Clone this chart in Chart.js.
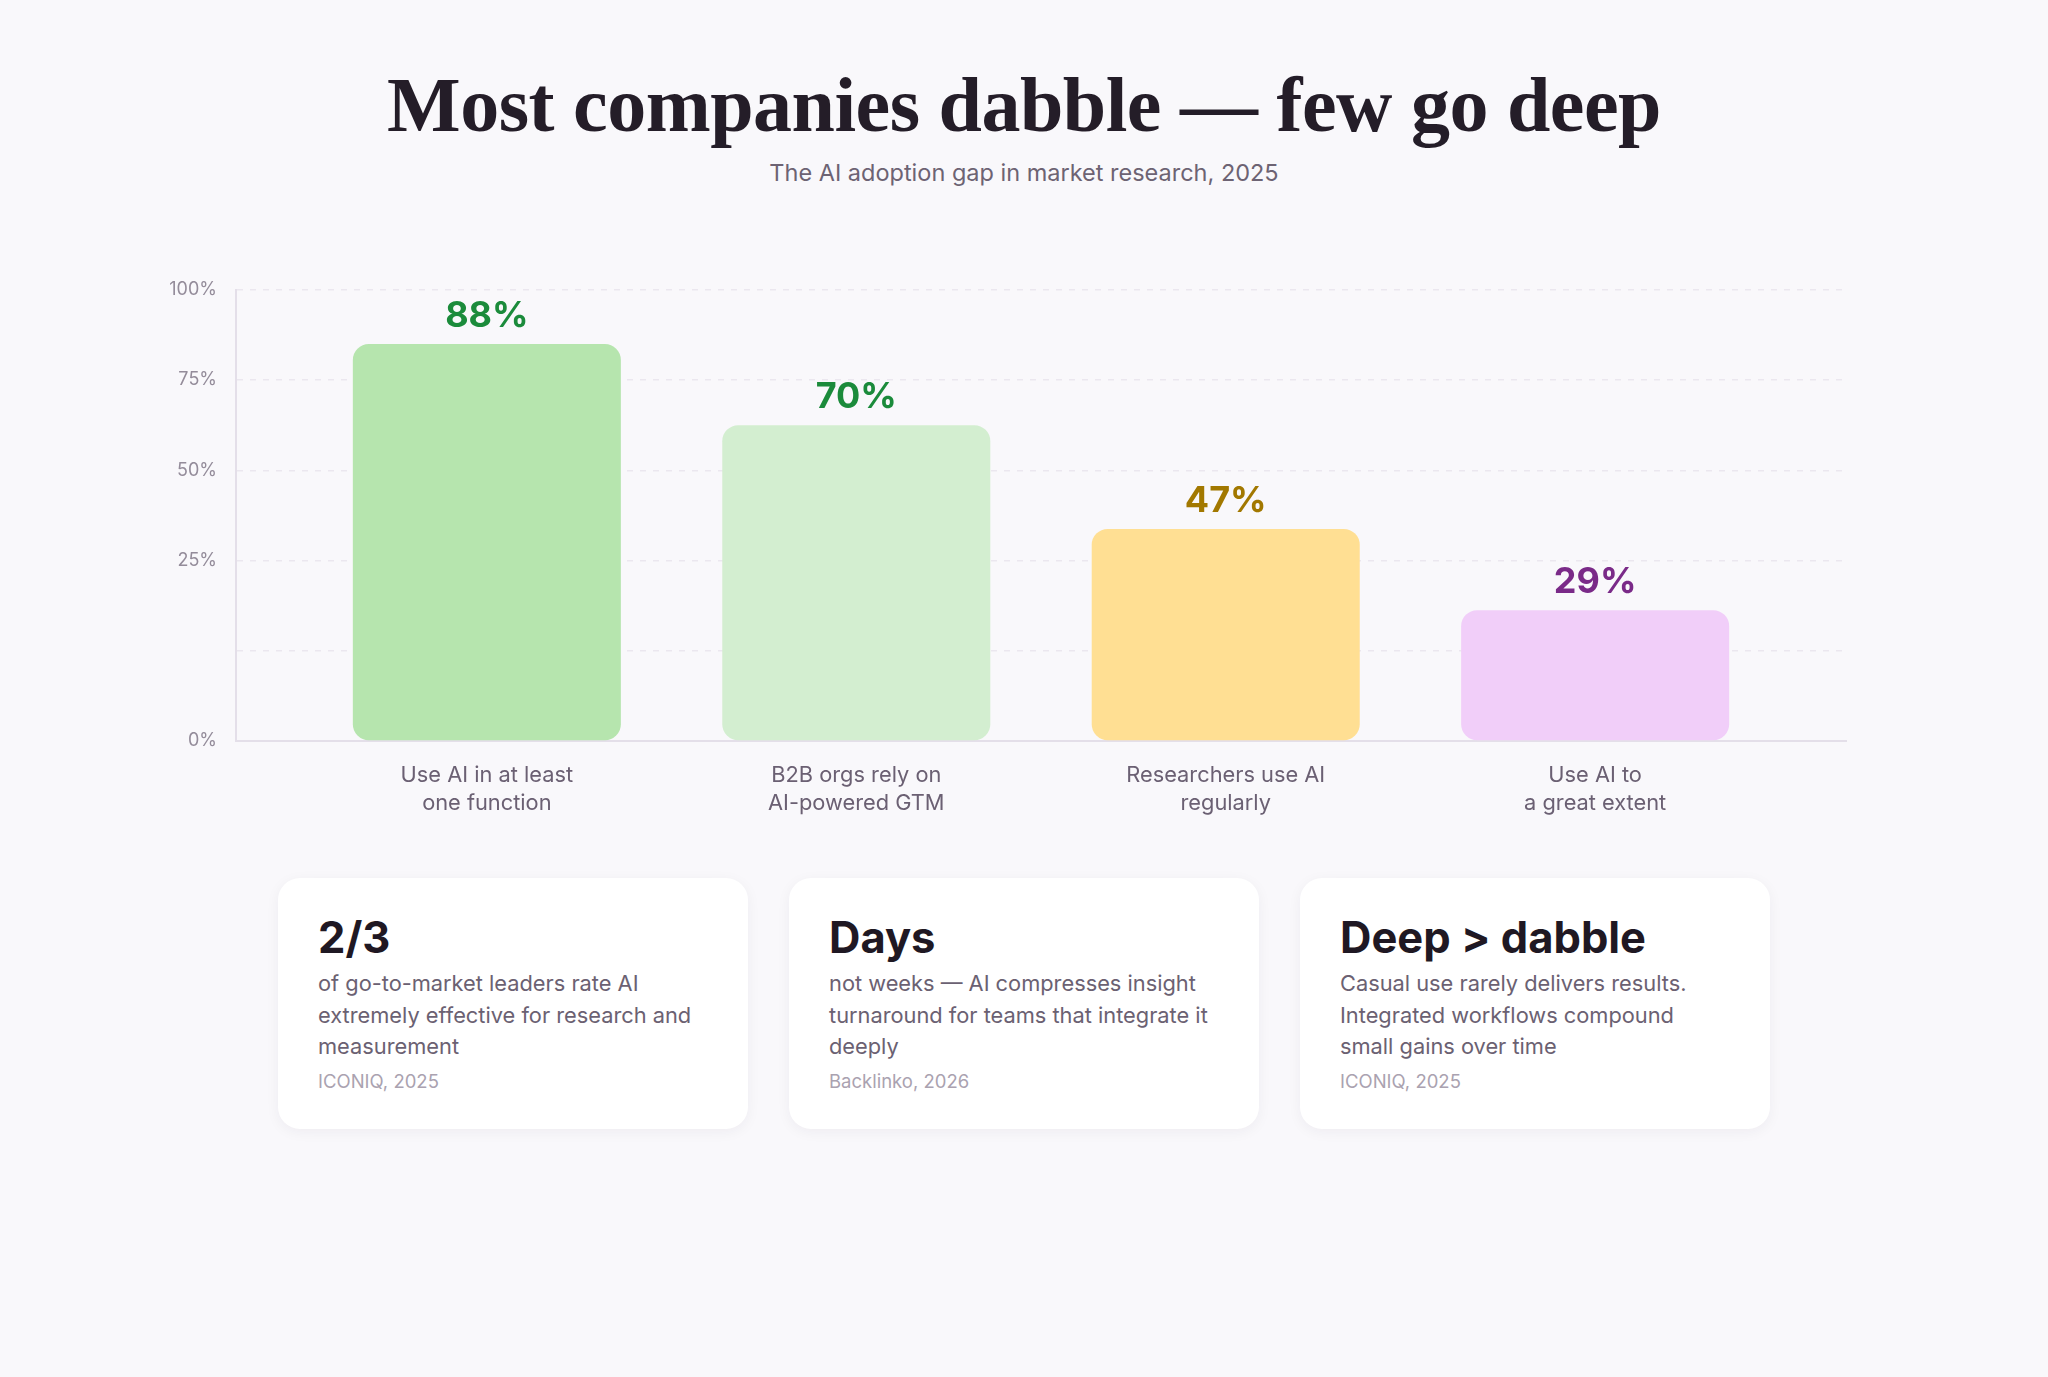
<!DOCTYPE html>
<html>
<head>
<meta charset="utf-8">
<script src="https://cdn.jsdelivr.net/npm/chart.js@4.4.1/dist/chart.umd.min.js"></script>
<style>
  html, body { margin: 0; padding: 0; }
  body { width: 2048px; height: 1377px; background: #f9f8fb; position: relative; overflow: hidden; font-family: Inter, "Noto Sans", sans-serif; }
  h1 { position: absolute; left: 0; width: 2048px; top: 65px; margin: 0; text-align: center;
       font-family: "Liberation Serif", "DejaVu Serif", serif; font-weight: 700; font-size: 78px; line-height: 79px; color: #241d28; letter-spacing: -0.5px; }
  .sub { position: absolute; left: 0; width: 2048px; top: 160px; margin: 0; text-align: center;
       font-size: 23.5px; line-height: 26px; color: #6d6373; }
  #wrap { position: absolute; left: 0; top: 260px; width: 2048px; height: 580px; }
  .card { position: absolute; top: 878px; width: 470px; height: 251px; background: #ffffff; border-radius: 22px;
          box-shadow: 0 3px 14px rgba(40, 25, 50, 0.05); box-sizing: border-box; padding: 33px 40px 0 40px; }
  .card h3 { margin: 0; font-size: 43.5px; line-height: 53px; font-weight: 700; color: #1f1823; white-space: nowrap; }
  .card p { margin: 4px 0 0 0; font-size: 21.8px; line-height: 31.5px; color: #6b6172; white-space: nowrap; }
  .card .src { margin-top: 6px; font-size: 18.5px; line-height: 24px; color: #aaa2b0; }
</style>
</head>
<body>
<h1>Most companies dabble — few go deep</h1>
<div class="sub">The AI adoption gap in market research, 2025</div>
<div id="wrap"><canvas id="c"></canvas></div>

<div class="card" style="left:278px">
  <h3>2/3</h3>
  <p>of go-to-market leaders rate AI<br>extremely effective for research and<br>measurement</p>
  <p class="src">ICONIQ, 2025</p>
</div>
<div class="card" style="left:789px">
  <h3>Days</h3>
  <p>not weeks — AI compresses insight<br>turnaround for teams that integrate it<br>deeply</p>
  <p class="src">Backlinko, 2026</p>
</div>
<div class="card" style="left:1300px">
  <h3>Deep &gt; dabble</h3>
  <p>Casual use rarely delivers results.<br>Integrated workflows compound<br>small gains over time</p>
  <p class="src">ICONIQ, 2025</p>
</div>

<script>
// ---- data ----
const categories = [
  ["Use AI in at least", "one function"],
  ["B2B orgs rely on", "AI-powered GTM"],
  ["Researchers use AI", "regularly"],
  ["Use AI to", "a great extent"]
];
const values = [88, 70, 47, 29];
const valueLabels = ["88%", "70%", "47%", "29%"];
const barColors = ["#b6e5ae", "#d3eed0", "#ffdf93", "#f1cef9"];
const labelColors = ["#1b8b3b", "#1b8b3b", "#a27800", "#7a2a88"];
const yTickValues = [0, 20, 40, 60, 80, 100];
const yTickLabels = ["0%", "", "25%", "50%", "75%", "100%"];

const valueLabelPlugin = {
  id: 'valueLabels',
  afterDatasetsDraw(chart) {
    const ctx = chart.ctx;
    const meta = chart.getDatasetMeta(0);
    ctx.save();
    ctx.font = '700 36px Inter';
    ctx.textAlign = 'center';
    ctx.textBaseline = 'alphabetic';
    meta.data.forEach((el, i) => {
      ctx.fillStyle = labelColors[i];
      ctx.fillText(valueLabels[i], el.x, el.y - 17);
    });
    ctx.restore();
  }
};

new Chart(document.getElementById('c'), {
  type: 'bar',
  data: {
    datasets: [{
      data: values.map((v, i) => ({ x: i, y: v })),
      backgroundColor: barColors,
      borderRadius: 16,
      borderSkipped: false,
      barPercentage: 0.7255,
      categoryPercentage: 1.0
    }]
  },
  options: {
    responsive: true,
    maintainAspectRatio: false,
    animation: false,
    layout: { padding: { left: 0, right: 202, top: 25, bottom: 0 } },
    plugins: { legend: { display: false }, tooltip: { enabled: false }, title: { display: false } },
    scales: {
      x: {
        type: 'linear',
        offset: false,
        min: -0.679,
        max: 3.679,
        afterBuildTicks: (scale) => { scale.ticks = categories.map((c, i) => ({ value: i })); },
        afterFit: (scale) => { scale.height = 99; },
        grid: { display: false, drawTicks: false, offset: false },
        border: { display: true, color: '#e4dfe9', width: 2 },
        ticks: {
          padding: 21,
          color: '#6b6073',
          font: { family: 'Inter', size: 21.8, lineHeight: 1.26 },
          maxRotation: 0,
          autoSkip: false,
          callback: (value) => categories[value]
        }
      },
      y: {
        min: 0,
        max: 100,
        afterBuildTicks: (scale) => { scale.ticks = yTickValues.map(v => ({ value: v })); },
        afterFit: (scale) => { scale.width = 236; },
        grid: { color: (ctx) => ctx.tick && ctx.tick.value === 0 ? 'rgba(0,0,0,0)' : '#ebe7ef', lineWidth: 1.5, drawTicks: false },
        border: { display: true, color: '#e4dfe9', width: 2, dash: [6, 7] },
        ticks: {
          padding: 19,
          color: '#948c9a',
          font: { family: 'Inter', size: 18 },
          callback: (value) => yTickLabels[yTickValues.indexOf(value)]
        }
      }
    }
  },
  plugins: [valueLabelPlugin]
});
</script>
</body>
</html>
